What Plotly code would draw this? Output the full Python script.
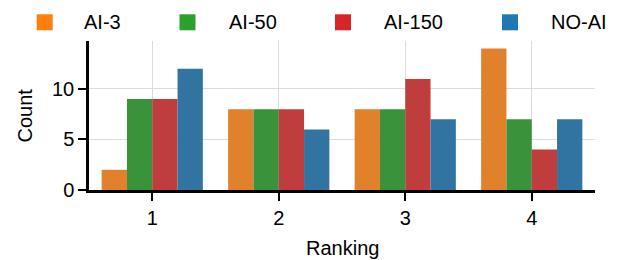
import plotly.graph_objects as go

rankings = ["1", "2", "3", "4"]
series_names = ["AI-3", "AI-50", "AI-150", "NO-AI"]
ai3 = [2, 8, 8, 14]
ai50 = [9, 8, 8, 7]
ai150 = [9, 8, 11, 4]
noai = [12, 6, 7, 7]
y_ticks = [0, 5, 10]

bar_colors = ["#e1812c", "#3a923a", "#c03d3e", "#3274a1"]
legend_colors = ["#ff7f0e", "#2ca02c", "#d62728", "#1f77b4"]

# page body has an 8px margin, so the figure is drawn 8px smaller
W, H = 610, 252
L, R, T, B = 81, 23, 33, 70
PW, PH = W - L - R, H - T - B


def px_x(px):
    return (px - L) / PW


def px_y(py):
    return 1 - (py - T) / PH


fig = go.Figure()
for name, vals, c in zip(series_names, [ai3, ai50, ai150, noai], bar_colors):
    fig.add_trace(go.Bar(x=rankings, y=vals, name=name, marker=dict(color=c, line=dict(width=0))))

font = dict(family="Liberation Sans, Arial, sans-serif", size=20, color="black")

# manual legend (square markers + labels)
marker_cx = [36.7, 179.5, 335, 502]
text_x = [74, 219, 374, 541]
leg_y = 14.3
shapes = []
annotations = []
for name, c, mx, tx in zip(series_names, legend_colors, marker_cx, text_x):
    shapes.append(dict(type="rect", xref="paper", yref="paper",
                       x0=px_x(mx - 8), x1=px_x(mx + 8), y0=px_y(leg_y + 8), y1=px_y(leg_y - 8),
                       fillcolor=c, line=dict(width=0), layer="above"))
    annotations.append(dict(text=name, xref="paper", yref="paper", x=px_x(tx), y=px_y(leg_y),
                            xanchor="left", yanchor="middle", showarrow=False, font=font))

annotations += [
    dict(text="Ranking", xref="paper", yref="paper", x=0.5, y=0, xanchor="center",
         yanchor="middle", yshift=-58, showarrow=False, font=font),
    dict(text="Count", xref="paper", yref="paper", x=0, y=0.5, xanchor="center",
         yanchor="middle", xshift=-65, textangle=-90, showarrow=False, font=font),
]

fig.update_layout(
    width=W, height=H,
    margin=dict(l=L, r=R, t=T, b=B),
    plot_bgcolor="white", paper_bgcolor="white",
    font=font, showlegend=False,
    barmode="group", bargap=0.2, bargroupgap=0,
    xaxis=dict(type="category", range=[-0.5, 3.5], automargin=False,
               showline=True, linecolor="black", linewidth=2.5, ticks="outside", ticklen=8,
               tickwidth=2, tickcolor="black", tickfont=font, showgrid=True,
               gridcolor="#dcdcdc", gridwidth=1, zeroline=False),
    yaxis=dict(range=[0, 14.75], tickvals=y_ticks, automargin=False,
               showline=True, linecolor="black", linewidth=2.5, ticks="outside", ticklen=8,
               tickwidth=2, tickcolor="black", tickfont=font, showgrid=True,
               gridcolor="#dcdcdc", gridwidth=1, zeroline=False),
    shapes=shapes,
    annotations=annotations,
)
fig.write_html("out.html")
